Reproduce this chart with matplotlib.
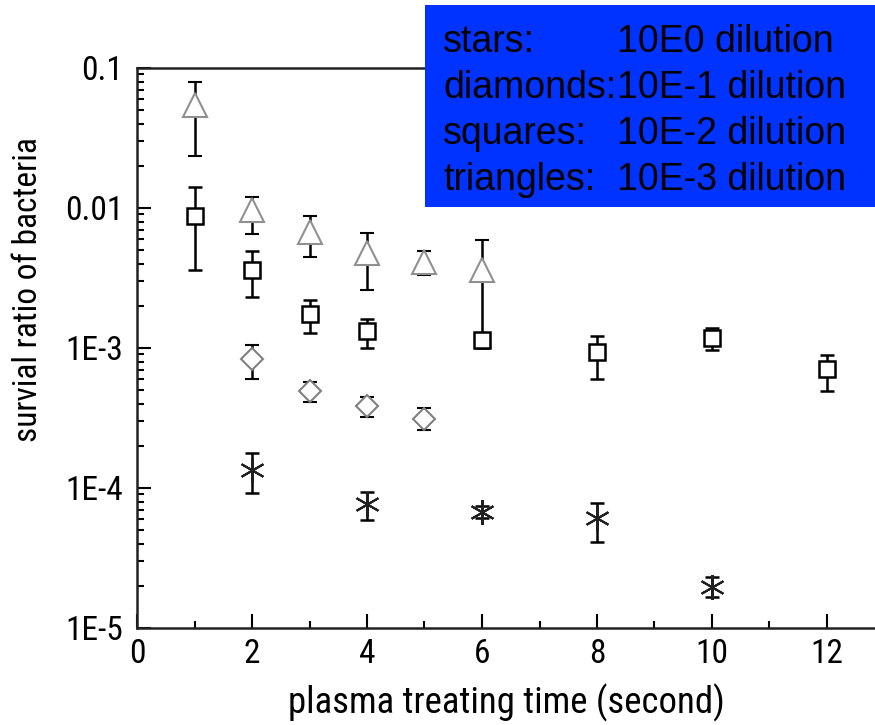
import matplotlib
matplotlib.use("Agg")
import matplotlib.pyplot as plt
from matplotlib.patches import Rectangle

# survival ratio data: value, upper bar, lower bar
tri_x = [1, 2, 3, 4, 5, 6]
tri_y = [0.0545, 0.0097, 0.0067, 0.0048, 0.0041, 0.0036]
tri_hi = [0.079, 0.012, 0.0088, 0.0066, 0.0049, 0.0059]
tri_lo = [0.0235, 0.0065, 0.0045, 0.0026, 0.0033, 0.0012]

sq_x = [1, 2, 3, 4, 6, 8, 10, 12]
sq_y = [0.0088, 0.0036, 0.00175, 0.00132, 0.00114, 0.00094, 0.00118, 0.00071]
sq_hi = [0.0141, 0.0049, 0.0022, 0.0016, 0.00126, 0.00122, 0.00139, 0.00089]
sq_lo = [0.0036, 0.0023, 0.00128, 0.0010, 0.00100, 0.00060, 0.00097, 0.00049]

dia_x = [2, 3, 4, 5]
dia_y = [0.00083, 0.00049, 0.000385, 0.00031]
dia_hi = [0.00105, 0.00057, 0.00045, 0.00037]
dia_lo = [0.00060, 0.00041, 0.00032, 0.00026]

star_x = [2, 4, 6, 8, 10]
star_y = [0.000134, 0.000077, 0.0000674, 0.000061, 0.0000196]
star_hi = [0.000178, 0.0000936, 0.000074, 0.000078, 0.0000232]
star_lo = [0.000092, 0.000059, 0.000061, 0.000041, 0.0000166]

legend_names = ["stars:", "diamonds:", "squares:", "triangles:"]
legend_dilutions = ["10E0 dilution", "10E-1 dilution", "10E-2 dilution", "10E-3 dilution"]

x_ticks = [0, 2, 4, 6, 8, 10, 12]
y_ticks = [1e-5, 1e-4, 1e-3, 1e-2, 1e-1]
y_tick_labels = ["1E-5", "1E-4", "1E-3", "0.01", "0.1"]

narrow = ["Liberation Sans Narrow", "Roboto Condensed", "Archivo Narrow", "Liberation Sans"]
W, H = 875, 725

fig = plt.figure(figsize=(8.75, 7.25), dpi=100)
ax = fig.add_axes([137 / W, 1 - 628 / H, (W - 137) / W, (628 - 68) / H])


def err(y, hi, lo):
    return [[v - l for v, l in zip(y, lo)], [h - v for v, h in zip(y, hi)]]


ebar = dict(ecolor="black", elinewidth=1.8, capsize=5, capthick=1.8, linestyle="none")
ax.errorbar(tri_x, tri_y, yerr=err(tri_y, tri_hi, tri_lo), fmt="^", ms=17,
            mfc="white", mec="#909090", mew=1.5, **ebar)
ax.errorbar(sq_x, sq_y, yerr=err(sq_y, sq_hi, sq_lo), fmt="s", ms=11,
            mfc="white", mec="black", mew=1.8, **ebar)
ax.errorbar(dia_x, dia_y, yerr=err(dia_y, dia_hi, dia_lo), fmt="D", ms=11,
            mfc="white", mec="#808080", mew=1.5, **ebar)
ax.errorbar(star_x, star_y, yerr=err(star_y, star_hi, star_lo), fmt="none", **ebar)
ax.plot(star_x, star_y, linestyle="none", marker=(6, 2, 0), ms=18,
        mec="#202020", mew=1.5)

ax.set_yscale("log")
ax.set_ylim(1e-5, 0.1)
ax.set_xlim(0, (W - 137) / 57.5)
ax.set_xticks(x_ticks)
ax.set_xticks([1, 3, 5, 7, 9, 11], minor=True)
ax.set_xticklabels([str(t) for t in x_ticks], fontsize=24, family=narrow)
ax.set_yticks(y_ticks)
ax.set_yticklabels(y_tick_labels, fontsize=24, family=narrow)
ax.tick_params(which="major", direction="in", length=10, width=1.5, pad=7)
ax.tick_params(axis="y", which="major", pad=10)
ax.tick_params(which="minor", direction="in", length=5, width=1.5)
ax.tick_params(axis="y", which="both", left=True, right=False)
ax.tick_params(axis="x", which="both", top=False)
ax.spines["right"].set_visible(False)
for s in ["left", "bottom", "top"]:
    ax.spines[s].set_linewidth(1.8)
    ax.spines[s].set_color("#222222")

ax.set_xlabel("plasma treating time (second)", fontsize=26.5, family=narrow, labelpad=10)
fig.text(28 / W, 1 - 290 / H, "survial ratio of bacteria", rotation=90,
         ha="center", va="center", fontsize=24, family=narrow)

# blue legend box in the top right corner
fig.patches.append(Rectangle((425 / W, 1 - 207 / H), (W - 425) / W, 202 / H,
                             transform=fig.transFigure, facecolor="#0033FF",
                             edgecolor="none", zorder=5))
for i, (name, dil) in enumerate(zip(legend_names, legend_dilutions)):
    yb = 1 - (52 + 46 * i) / H
    fig.text(443 / W, yb, name, fontsize=27, family="Liberation Sans",
             va="baseline", zorder=6)
    fig.text(617 / W, yb, dil, fontsize=27, family="Liberation Sans",
             va="baseline", zorder=6)

fig.savefig("out.png", dpi=100)
